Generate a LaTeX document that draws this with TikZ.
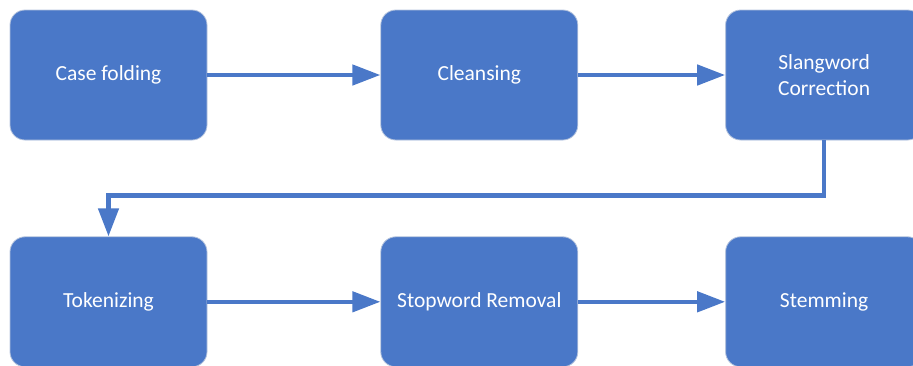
\documentclass[tikz,border=0pt]{standalone}
\usepackage{fontspec}
\setmainfont{Carlito}
\usepackage{tikz}
\usetikzlibrary{arrows.meta,positioning}
\definecolor{stepblue}{HTML}{4A78C8}
\definecolor{stepedge}{HTML}{B4C3DD}

\begin{document}
\begin{tikzpicture}[x=1pt,y=-1pt,
		proc/.style={draw=stepedge, line width=0.8pt, fill=stepblue, rounded corners=15pt,
			minimum width=197pt, minimum height=130pt, inner sep=0pt,
			text=white, align=center, font=\fontsize{21.5}{26}\selectfont},
		flow/.style={draw=stepblue, line width=4.5pt, -{Triangle[length=28pt,width=20pt]}}]
		\useasboundingbox (0,0) rectangle (913,365);
		% top row
		\node[proc] (s1) at (108.5,75) {Case folding};
		\node[proc, right=173pt of s1] (s2) {Cleansing};
		\node[proc, right=147pt of s2] (s3) {Slangword\\Correction};
		% bottom row
		\node[proc, below=96pt of s1] (s4) {Tokenizing};
		\node[proc, right=173pt of s4] (s5) {Stopword Removal};
		\node[proc, right=147pt of s5] (s6) {Stemming};
		% connectors
		\draw[flow] (s1) -- (s2);
		\draw[flow] (s2) -- (s3);
		\draw[flow] (s3.south) -- ++(0,55) -| (s4.north);
		\draw[flow] (s4) -- (s5);
		\draw[flow] (s5) -- (s6);
	\end{tikzpicture}
\end{document}
